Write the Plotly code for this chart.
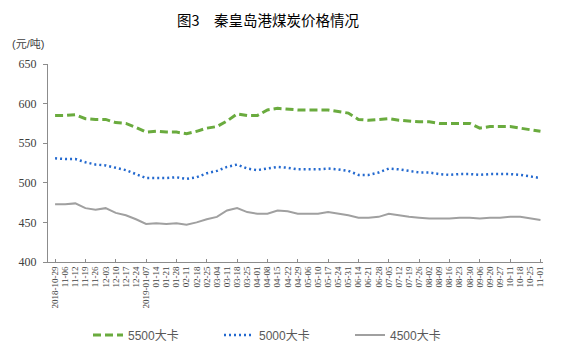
import plotly.graph_objects as go

dates = ["2018-10-29", "11-06", "11-12", "11-19", "11-26", "12-03", "12-10", "12-17", "12-24",
         "2019-01-07", "01-14", "01-21", "01-28", "02-11", "02-18", "02-25", "03-04", "03-11",
         "03-18", "03-25", "04-01", "04-08", "04-15", "04-22", "04-29", "05-06", "05-10",
         "05-17", "05-24", "05-31", "06-14", "06-21", "06-28", "07-05", "07-12", "07-19",
         "07-26", "08-02", "08-09", "08-16", "08-23", "08-30", "09-06", "09-20", "09-27",
         "10-11", "10-18", "10-25", "11-01"]

p5500 = [585, 585, 586, 581, 580, 580, 576, 575, 570, 564, 565, 564, 564, 562, 565, 569, 571,
         578, 587, 585, 585, 592, 594, 593, 592, 592, 592, 592, 590, 588, 580, 579, 580, 581,
         579, 578, 577, 577, 575, 575, 575, 575, 569, 571, 571, 571, 569, 567, 565]
p5000 = [531, 530, 530, 526, 523, 522, 519, 516, 511, 506, 506, 506, 507, 505, 507, 512, 515,
         520, 523, 518, 516, 518, 520, 519, 517, 517, 517, 518, 517, 515, 510, 510, 513, 518,
         517, 515, 513, 513, 511, 510, 511, 511, 510, 511, 511, 511, 510, 508, 506]
p4500 = [473, 473, 474, 468, 466, 468, 462, 459, 454, 448, 449, 448, 449, 447, 450, 454, 457,
         465, 468, 463, 461, 461, 465, 464, 461, 461, 461, 463, 461, 459, 456, 456, 457, 461,
         459, 457, 456, 455, 455, 455, 456, 456, 455, 456, 456, 457, 457, 455, 453]

series_names = ["5500大卡", "5000大卡", "4500大卡"]
y_ticks = [400, 450, 500, 550, 600, 650]

idx = list(range(len(dates)))
cjk = "Liberation Sans, Noto Sans CJK SC, sans-serif"

# page body has an 8px margin, so the figure is sized to fill the rest of the window
OFF = 8
W, H = 561 - OFF, 357 - OFF
PL, PT = 48 - OFF, 64 - OFF
pw, ph = 495, 198
PR, PB = W - PL - pw, H - PT - ph

fig = go.Figure()
fig.add_trace(go.Scatter(x=idx, y=p5500, name=series_names[0], mode="lines",
                         line=dict(color="#6AAB3E", width=3, dash="8px,4px")))
fig.add_trace(go.Scatter(x=idx, y=p5000, name=series_names[1], mode="lines",
                         line=dict(color="#2369CF", width=2.5, dash="2px,3px")))
fig.add_trace(go.Scatter(x=idx, y=p4500, name=series_names[2], mode="lines",
                         line=dict(color="#A0A0A0", width=2)))

fig.update_layout(
    width=W, height=H,
    margin=dict(l=PL, r=PR, t=PT, b=PB, autoexpand=False),
    paper_bgcolor="white", plot_bgcolor="white",
    showlegend=True,
    legend=dict(orientation="h", x=(88 - OFF - PL) / pw, xanchor="left",
                y=-(335 - OFF - (H - PB)) / ph, yanchor="middle",
                font=dict(family=cjk, size=12, color="#595959"),
                entrywidth=86, entrywidthmode="pixels", itemwidth=30,
                bgcolor="rgba(0,0,0,0)"),
    title=dict(text="图3\u3000秦皇岛港煤炭价格情况", x=(268 - OFF) / W, xanchor="center",
               y=1 - (21 - OFF) / H, yanchor="middle",
               font=dict(family="Noto Sans CJK SC", size=14.5, color="#000000")),
    annotations=[dict(text="(元/吨)", xref="paper", yref="paper", x=-(PL - (10 - OFF)) / pw,
                      xanchor="left", y=1 + 20 / ph, yanchor="middle", showarrow=False,
                      font=dict(family=cjk, size=11, color="#404040"))],
)

fig.update_xaxes(
    range=[-0.7, 48.25], tickmode="array", tickvals=idx, ticktext=dates,
    tickangle=-90, ticks="", showgrid=False, zeroline=False, automargin=False,
    showline=True, linecolor="#8C8C8C", linewidth=1,
    tickfont=dict(family="Liberation Serif, serif", size=9, color="#404040"),
    minor=dict(tickvals=idx[::3], ticks="inside", ticklen=3, tickcolor="#8C8C8C", showgrid=False),
)
fig.update_yaxes(
    range=[400, 650], tickvals=y_ticks, ticks="outside", ticklen=4, tickcolor="#8C8C8C",
    showgrid=False, zeroline=False, showline=True, linecolor="#8C8C8C", linewidth=1,
    automargin=False, ticklabelstandoff=4,
    tickfont=dict(family="Liberation Serif, serif", size=12, color="#404040"),
)

fig.write_html("out.html")
